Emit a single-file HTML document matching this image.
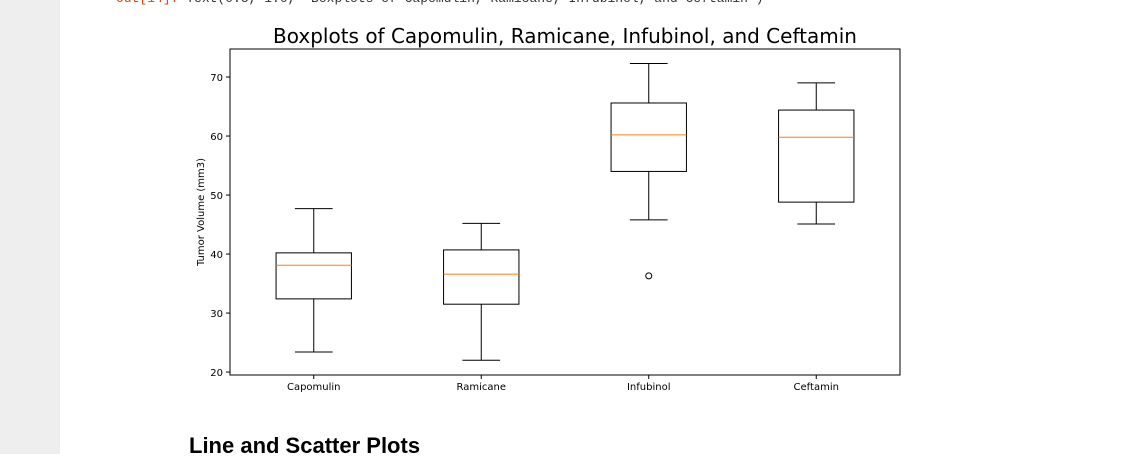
<!DOCTYPE html>
<html><head><meta charset="utf-8"><style>
body{margin:0;width:1138px;height:454px;overflow:hidden;background:#fff;font-family:"DejaVu Sans","Liberation Sans",sans-serif;position:relative}
#side{position:absolute;left:0;top:0;width:60px;height:454px;background:#eeeeee}
#out{position:absolute;left:116px;top:-9px;font-family:"Liberation Mono",monospace;font-size:13px;color:#333;white-space:pre}
#h2{position:absolute;left:189px;top:433px;font-family:"Liberation Sans",sans-serif;font-weight:bold;font-size:22px;color:#000}
svg{position:absolute;left:0;top:0}
</style></head><body>
<div id="side"></div>
<div id="out"><span style="color:#d84315">Out[14]:</span> Text(0.5, 1.0, 'Boxplots of Capomulin, Ramicane, Infubinol, and Ceftamin')</div>
<div id="h2">Line and Scatter Plots</div>
<svg id="chart" width="1138" height="454"></svg>
<script>
const categories=["Capomulin","Ramicane","Infubinol","Ceftamin"];
const whiskerLow=[23.4,22.0,45.8,45.1];
const q1=[32.4,31.5,54.0,48.8];
const median=[38.1,36.6,60.2,59.8];
const q3=[40.2,40.7,65.6,64.4];
const whiskerHigh=[47.7,45.2,72.3,69.0];
const outliers=[[],[],[36.3],[]];
const yTicks=[20,30,40,50,60,70];

const L=230,R=900,T=49,B=375,yMin=19.5,yMax=74.75;
const y=v=>B-(v-yMin)/(yMax-yMin)*(B-T);
const x=p=>L+(p+0.5)/categories.length*(R-L);
const NS="http://www.w3.org/2000/svg";
const svg=document.getElementById('chart');
function mk(t,a,parent){const e=document.createElementNS(NS,t);for(const k in a)e.setAttribute(k,a[k]);(parent||svg).appendChild(e);return e;}
const title=mk('text',{x:565,y:43,'text-anchor':'middle','font-size':20,fill:'#000'});


title.textContent="Boxplots of Capomulin, Ramicane, Infubinol, and Ceftamin";
const frame=mk('rect',{x:L,y:T,width:R-L,height:B-T,fill:'none',stroke:'#000','stroke-width':1});


yTicks.forEach(t=>{
  const g=mk('g',{});
  
  
  mk('line',{x1:L-4,x2:L,y1:y(t),y2:y(t),stroke:'#000'},g);
  const tx=mk('text',{x:L-7,y:y(t)+4,'text-anchor':'end','font-size':10},g);tx.textContent=t;
});
const yl=mk('text',{transform:`translate(204,212) rotate(-90)`,'text-anchor':'middle','font-size':10});


yl.textContent="Tumor Volume (mm3)";
const bw=(R-L)/categories.length*0.45, cw=bw/2;
categories.forEach((c,i)=>{
  const cx=x(i);
  const g=mk('g',{stroke:'#000','stroke-width':1,fill:'none'});
  
  
  mk('line',{x1:cx,x2:cx,y1:y(q3[i]),y2:y(whiskerHigh[i])},g);
  mk('line',{x1:cx,x2:cx,y1:y(q1[i]),y2:y(whiskerLow[i])},g);
  mk('line',{x1:cx-cw/2,x2:cx+cw/2,y1:y(whiskerHigh[i]),y2:y(whiskerHigh[i])},g);
  mk('line',{x1:cx-cw/2,x2:cx+cw/2,y1:y(whiskerLow[i]),y2:y(whiskerLow[i])},g);
  mk('rect',{x:cx-bw/2,y:y(q3[i]),width:bw,height:y(q1[i])-y(q3[i])},g);
  mk('line',{x1:cx-bw/2,x2:cx+bw/2,y1:y(median[i]),y2:y(median[i]),stroke:'#ff7f0e'},g);
  outliers[i].forEach(o=>{
    const ci=mk('circle',{cx:cx,cy:y(o),r:3},g);
    
    
  });
  const tg=mk('g',{});
  
  
  mk('line',{x1:cx,x2:cx,y1:B,y2:B+4,stroke:'#000'},tg);
  const tx=mk('text',{x:cx,y:B+15,'text-anchor':'middle','font-size':10},tg);tx.textContent=c;
});
</script>
</body></html>
